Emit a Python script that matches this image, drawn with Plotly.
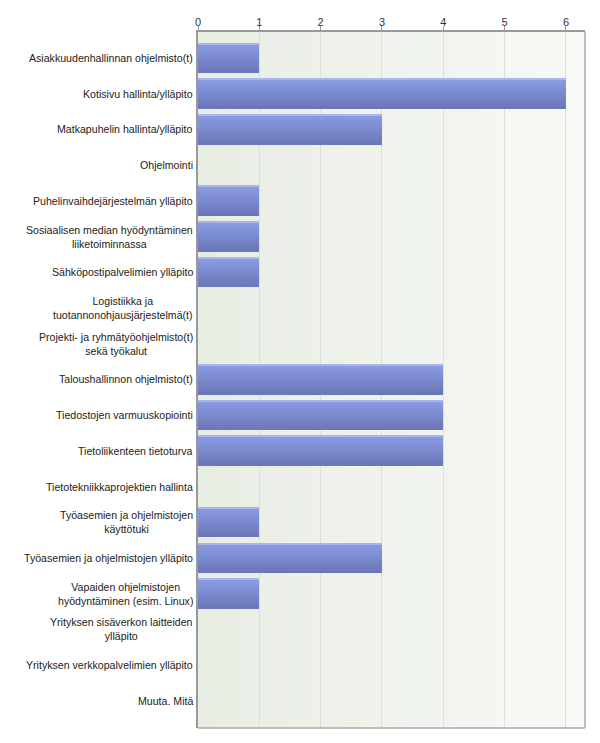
import plotly.graph_objects as go

categories = [
    "Asiakkuudenhallinnan ohjelmisto(t)",
    "Kotisivu hallinta/ylläpito",
    "Matkapuhelin hallinta/ylläpito",
    "Ohjelmointi",
    "Puhelinvaihdejärjestelmän ylläpito",
    "Sosiaalisen median hyödyntäminen<br>liiketoiminnassa",
    "Sähköpostipalvelimien ylläpito",
    "Logistiikka ja<br>tuotannonohjausjärjestelmä(t)",
    "Projekti- ja ryhmätyöohjelmisto(t)<br>sekä työkalut",
    "Taloushallinnon ohjelmisto(t)",
    "Tiedostojen varmuuskopiointi",
    "Tietoliikenteen tietoturva",
    "Tietotekniikkaprojektien hallinta",
    "Työasemien ja ohjelmistojen<br>käyttötuki",
    "Työasemien ja ohjelmistojen ylläpito",
    "Vapaiden ohjelmistojen<br>hyödyntäminen (esim. Linux)",
    "Yrityksen sisäverkon laitteiden<br>ylläpito",
    "Yrityksen verkkopalvelimien ylläpito",
    "Muuta. Mitä",
]
values = [1, 6, 3, 0, 1, 1, 1, 0, 0, 4, 4, 4, 0, 1, 3, 1, 0, 0, 0]
x_ticks = [0, 1, 2, 3, 4, 5, 6]


def lerp(c1, c2, t):
    return "rgb(%d,%d,%d)" % tuple(round(a + (b - a) * t) for a, b in zip(c1, c2))


fig = go.Figure()

total_w = 0.84
hl_w = 0.03
N = 12
body_w = total_w - hl_w
top_c = (138, 154, 226)
bot_c = (106, 120, 184)

# solid base bar underneath (hides anti-aliasing seams between slices)
fig.add_trace(go.Bar(
    x=values, y=categories, orientation="h",
    width=total_w - hl_w, offset=-total_w / 2 + hl_w,
    marker=dict(color=lerp(top_c, bot_c, 0.5), line=dict(width=0)),
    showlegend=False, hoverinfo="skip",
))
# vertical gradient via horizontal slices
for i in range(N):
    t = i / (N - 1)
    fig.add_trace(go.Bar(
        x=values, y=categories, orientation="h",
        width=body_w / N + 0.004, offset=-total_w / 2 + hl_w + i * body_w / N,
        marker=dict(color=lerp(top_c, bot_c, t), line=dict(width=0)),
        showlegend=False, hoverinfo="skip",
    ))
# thin light highlight on top edge
fig.add_trace(go.Bar(
    x=values, y=categories, orientation="h",
    width=hl_w + 0.004, offset=-total_w / 2,
    marker=dict(color="rgb(170,182,234)", line=dict(width=0)),
    showlegend=False, hoverinfo="skip",
))

# background gradient
shapes = []
M = 40
left_c = (232, 237, 228)
right_c = (247, 249, 245)
for i in range(M):
    shapes.append(dict(
        type="rect", xref="x domain", yref="y domain",
        x0=i / M, x1=(i + 1) / M + 0.001, y0=0, y1=1,
        fillcolor=lerp(left_c, right_c, i / (M - 1)),
        line=dict(width=0), layer="below",
    ))
# right and bottom border
shapes.append(dict(type="line", xref="x domain", yref="y domain", x0=1, x1=1, y0=0, y1=1,
                   line=dict(color="#aaaaaa", width=1.5)))
shapes.append(dict(type="line", xref="x domain", yref="y domain", x0=0, x1=1, y0=0, y1=0,
                   line=dict(color="#aaaaaa", width=1.5)))

annotations = []
for c in categories:
    annotations.append(dict(
        x=0, xref="paper", y=c, yref="y", text=c, showarrow=False,
        xanchor="right", xshift=-3, align="center",
        font=dict(family="Liberation Sans, Arial, sans-serif", size=10.6, color="#222222"),
    ))

fig.update_layout(
    width=600, height=743,
    margin=dict(l=198, r=15, t=32, b=15),
    paper_bgcolor="white", plot_bgcolor="rgba(0,0,0,0)",
    barmode="overlay", bargap=0,
    font=dict(family="Liberation Sans, Arial, sans-serif", size=11, color="#333333"),
    xaxis=dict(
        side="top", range=[0, 6.31], tickvals=x_ticks,
        showgrid=True, gridcolor="#dcdfdb", gridwidth=1,
        showline=True, linecolor="#999999", linewidth=1.5,
        ticks="outside", ticklen=4, tickcolor="#999999",
        ticklabelstandoff=-4,
        zeroline=False, fixedrange=True,
        tickfont=dict(size=11, color="#333333"),
    ),
    yaxis=dict(
        categoryorder="array", categoryarray=categories,
        range=[18.76, -0.73], showticklabels=False,
        showline=True, linecolor="#999999", linewidth=1.5,
        showgrid=False, ticks="", fixedrange=True,
    ),
    shapes=shapes,
    annotations=annotations,
)

fig.write_html("out.html", config={"displayModeBar": False},
               post_script="document.body.style.margin='0px';")
